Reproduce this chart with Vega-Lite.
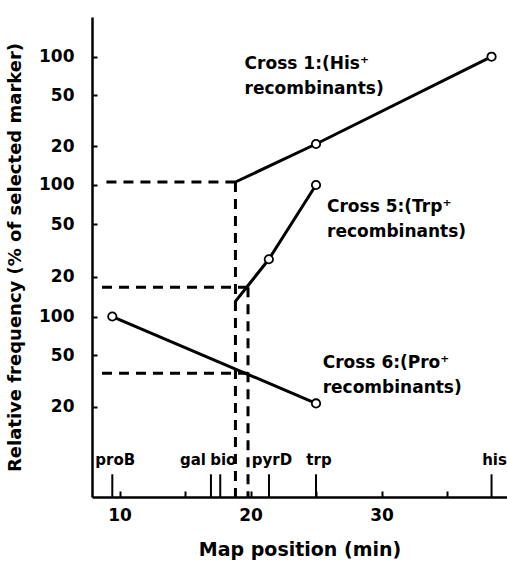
{
  "$schema": "https://vega.github.io/schema/vega-lite/v6.json",
  "width": 415,
  "height": 480,
  "autosize": "none",
  "padding": {"left": 92, "top": 17, "right": 0, "bottom": 73},
  "background": "white",
  "config": {
    "font": "DejaVu Sans",
    "view": {"stroke": null},
    "axis": {"grid": false, "labelColor": "black", "tickColor": "black", "domainColor": "black", "titleColor": "black"}
  },
  "datasets": {
    "curves": [
      {"cross": "1", "pos": 18.85, "freq": 10.5, "observed": false},
      {"cross": "1", "pos": 25.0, "freq": 20.8, "observed": true},
      {"cross": "1", "pos": 38.4, "freq": 100, "observed": true},
      {"cross": "5", "pos": 18.82, "freq": 12.8, "observed": false},
      {"cross": "5", "pos": 21.4, "freq": 27.1, "observed": true},
      {"cross": "5", "pos": 25.0, "freq": 100, "observed": true},
      {"cross": "6", "pos": 9.45, "freq": 100, "observed": true},
      {"cross": "6", "pos": 25.0, "freq": 21.2, "observed": true}
    ],
    "guides": [
      {"cross": "1", "pos": 18.85, "from": 8.51, "freq": 10.5, "vertical": true},
      {"cross": "5", "pos": 19.81, "from": 8.51, "freq": 16.6, "vertical": true},
      {"cross": "6", "pos": 19.81, "from": 8.51, "freq": 36.3, "vertical": false}
    ],
    "labels": [
      {"cross": "1", "pos": 19.55, "freq": 102, "text": "Cross 1:(His⁺\nrecombinants)"},
      {"cross": "5", "pos": 25.84, "freq": 78, "text": "Cross 5:(Trp⁺\nrecombinants)"},
      {"cross": "6", "pos": 25.51, "freq": 50, "text": "Cross 6:(Pro⁺\nrecombinants)"}
    ],
    "genes": [
      {"gene": "proB", "pos": 9.45},
      {"gene": "gal", "pos": 16.98},
      {"gene": "bio", "pos": 17.69},
      {"gene": "pyrD", "pos": 21.41},
      {"gene": "trp", "pos": 25.0},
      {"gene": "his", "pos": 38.4}
    ]
  },
  "encoding": {
    "x": {
      "field": "pos",
      "type": "quantitative",
      "scale": {"domain": [7.9, 39.58], "nice": false, "zero": false},
      "axis": {
        "title": "Map position (min)",
        "values": [10, 15, 20, 25, 30, 35],
        "labelExpr": "datum.value % 10 === 0 ? datum.label : ''",
        "tickSize": -6,
        "tickWidth": 2,
        "domainWidth": 2.5,
        "labelFontSize": 17,
        "labelFontWeight": "bold",
        "labelPadding": 16,
        "titleFontSize": 19,
        "titleFontWeight": "bold",
        "titlePadding": 17
      }
    }
  },
  "layer": [
    {
      "layer": [
        {
          "data": {"name": "curves"},
          "transform": [{"filter": "datum.cross === '1'"}],
          "mark": {"type": "line", "color": "black", "strokeWidth": 3},
          "encoding": {
            "y": {
              "field": "freq",
              "type": "quantitative",
              "scale": {"type": "log", "domain": [0.0363, 204.3], "nice": false},
              "axis": {"orient": "left", "values": [20, 50, 100], "format": "d", "title": null, "domain": false, "tickSize": -5, "tickWidth": 2, "labelFontSize": 17, "labelFontWeight": "bold", "labelPadding": 23}
            }
          }
        },
        {
          "data": {"name": "guides"},
          "transform": [{"filter": "datum.cross === '1'"}],
          "mark": {"type": "rule", "color": "black", "strokeWidth": 3, "strokeDash": [10, 7]},
          "encoding": {"x2": {"field": "from"}, "y": {"field": "freq", "type": "quantitative"}}
        },
        {
          "data": {"name": "guides"},
          "transform": [{"filter": "datum.cross === '1' && datum.vertical"}],
          "mark": {"type": "rule", "color": "black", "strokeWidth": 3, "strokeDash": [10, 7]},
          "encoding": {"y": {"field": "freq", "type": "quantitative"}, "y2": {"value": "height"}}
        },
        {
          "data": {"name": "curves"},
          "transform": [{"filter": "datum.cross === '1' && datum.observed"}],
          "mark": {"type": "point", "shape": "circle", "filled": true, "fill": "white", "stroke": "black", "strokeWidth": 1.8, "size": 70, "opacity": 1},
          "encoding": {"y": {"field": "freq", "type": "quantitative"}}
        },
        {
          "data": {"name": "labels"},
          "transform": [{"filter": "datum.cross === '1'"}],
          "mark": {"type": "text", "align": "left", "baseline": "top", "lineBreak": "\n", "lineHeight": 25, "fontSize": 17, "fontWeight": "bold", "color": "black"},
          "encoding": {"y": {"field": "freq", "type": "quantitative"}, "text": {"field": "text"}}
        },
        {
          "data": {"values": [{}]},
          "mark": {"type": "rule", "color": "black", "strokeWidth": 2.5},
          "encoding": {"x": {"datum": 7.9, "type": "quantitative"}, "x2": {"datum": 39.58}, "y": {"datum": 204.3, "type": "quantitative"}}
        }
      ]
    },
    {
      "layer": [
        {
          "data": {"name": "curves"},
          "transform": [{"filter": "datum.cross === '5'"}],
          "mark": {"type": "line", "color": "black", "strokeWidth": 3},
          "encoding": {
            "y": {
              "field": "freq",
              "type": "quantitative",
              "scale": {"type": "log", "domain": [0.415, 1916], "nice": false},
              "axis": {"orient": "left", "values": [20, 50, 100], "format": "d", "title": "Relative frequency (% of selected marker)", "titleFontSize": 18, "titleFontWeight": "bold", "titlePadding": 14, "domain": true, "domainWidth": 2.5, "tickSize": -5, "tickWidth": 2, "labelFontSize": 17, "labelFontWeight": "bold", "labelPadding": 23}
            }
          }
        },
        {
          "data": {"name": "guides"},
          "transform": [{"filter": "datum.cross === '5'"}],
          "mark": {"type": "rule", "color": "black", "strokeWidth": 3, "strokeDash": [10, 7]},
          "encoding": {"x2": {"field": "from"}, "y": {"field": "freq", "type": "quantitative"}}
        },
        {
          "data": {"name": "guides"},
          "transform": [{"filter": "datum.cross === '5' && datum.vertical"}],
          "mark": {"type": "rule", "color": "black", "strokeWidth": 3, "strokeDash": [10, 7]},
          "encoding": {"y": {"field": "freq", "type": "quantitative"}, "y2": {"value": "height"}}
        },
        {
          "data": {"name": "curves"},
          "transform": [{"filter": "datum.cross === '5' && datum.observed"}],
          "mark": {"type": "point", "shape": "circle", "filled": true, "fill": "white", "stroke": "black", "strokeWidth": 1.8, "size": 70, "opacity": 1},
          "encoding": {"y": {"field": "freq", "type": "quantitative"}}
        },
        {
          "data": {"name": "labels"},
          "transform": [{"filter": "datum.cross === '5'"}],
          "mark": {"type": "text", "align": "left", "baseline": "top", "lineBreak": "\n", "lineHeight": 25, "fontSize": 17, "fontWeight": "bold", "color": "black"},
          "encoding": {"y": {"field": "freq", "type": "quantitative"}, "text": {"field": "text"}}
        }
      ]
    },
    {
      "layer": [
        {
          "data": {"name": "curves"},
          "transform": [{"filter": "datum.cross === '6'"}],
          "mark": {"type": "line", "color": "black", "strokeWidth": 3},
          "encoding": {
            "y": {
              "field": "freq",
              "type": "quantitative",
              "scale": {"type": "log", "domain": [3.99, 20975], "nice": false},
              "axis": {"orient": "left", "values": [20, 50, 100], "format": "d", "title": null, "domain": false, "tickSize": -5, "tickWidth": 2, "labelFontSize": 17, "labelFontWeight": "bold", "labelPadding": 23}
            }
          }
        },
        {
          "data": {"name": "guides"},
          "transform": [{"filter": "datum.cross === '6'"}],
          "mark": {"type": "rule", "color": "black", "strokeWidth": 3, "strokeDash": [10, 7]},
          "encoding": {"x2": {"field": "from"}, "y": {"field": "freq", "type": "quantitative"}}
        },
        {
          "data": {"name": "curves"},
          "transform": [{"filter": "datum.cross === '6' && datum.observed"}],
          "mark": {"type": "point", "shape": "circle", "filled": true, "fill": "white", "stroke": "black", "strokeWidth": 1.8, "size": 70, "opacity": 1},
          "encoding": {"y": {"field": "freq", "type": "quantitative"}}
        },
        {
          "data": {"name": "labels"},
          "transform": [{"filter": "datum.cross === '6'"}],
          "mark": {"type": "text", "align": "left", "baseline": "top", "lineBreak": "\n", "lineHeight": 25, "fontSize": 17, "fontWeight": "bold", "color": "black"},
          "encoding": {"y": {"field": "freq", "type": "quantitative"}, "text": {"field": "text"}}
        }
      ]
    },
    {
      "data": {"name": "genes"},
      "layer": [
        {
          "mark": {"type": "rule", "color": "black", "strokeWidth": 2},
          "encoding": {
            "y": {"datum": 0, "type": "quantitative", "scale": {"domain": [0, 21.15], "nice": false}, "axis": null},
            "y2": {"datum": 1}
          }
        },
        {
          "transform": [{"filter": "datum.gene !== 'gal'"}],
          "mark": {"type": "text", "align": "center", "baseline": "alphabetic", "dx": 3, "fontSize": 15, "fontWeight": "bold", "color": "black"},
          "encoding": {"y": {"datum": 1.41, "type": "quantitative"}, "text": {"field": "gene"}}
        },
        {
          "transform": [{"filter": "datum.gene === 'gal'"}],
          "mark": {"type": "text", "align": "right", "baseline": "alphabetic", "dx": -5, "fontSize": 15, "fontWeight": "bold", "color": "black"},
          "encoding": {"y": {"datum": 1.41, "type": "quantitative"}, "text": {"field": "gene"}}
        }
      ]
    }
  ],
  "resolve": {"scale": {"y": "independent"}}
}
